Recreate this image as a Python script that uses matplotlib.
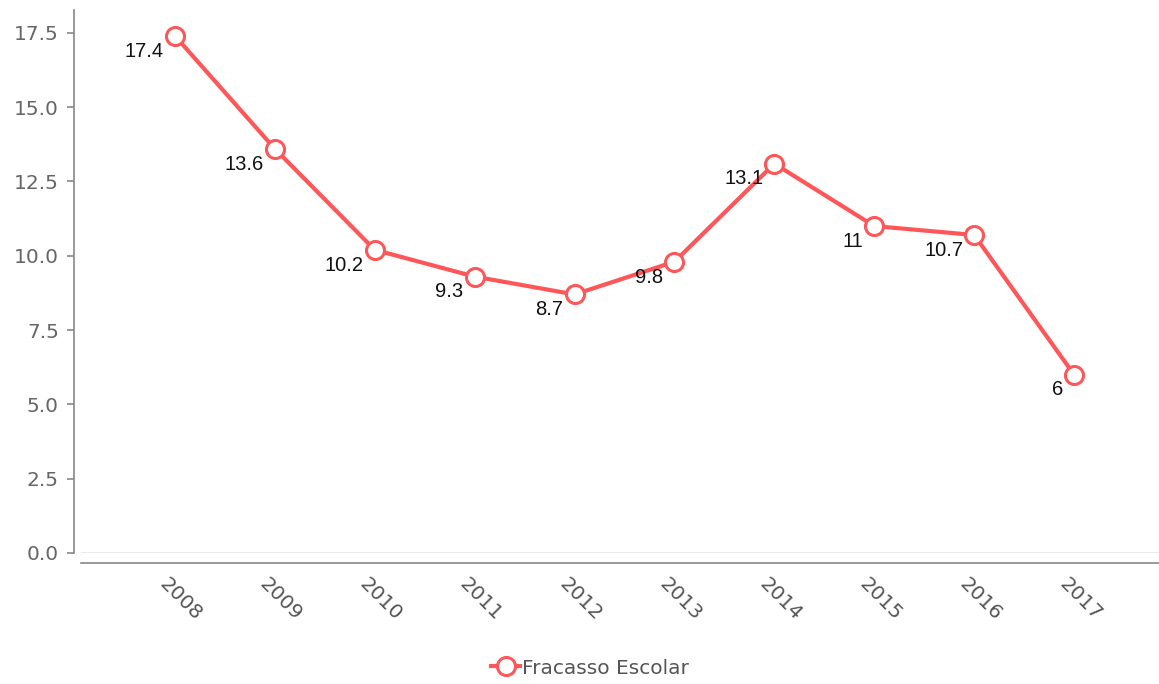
import matplotlib
matplotlib.use("Agg")
import matplotlib.pyplot as plt
from matplotlib.transforms import ScaledTranslation

# data
years = ["2008", "2009", "2010", "2011", "2012", "2013", "2014", "2015", "2016", "2017"]
fracasso = [17.4, 13.6, 10.2, 9.3, 8.7, 9.8, 13.1, 11, 10.7, 6]
value_labels = ["17.4", "13.6", "10.2", "9.3", "8.7", "9.8", "13.1", "11", "10.7", "6"]
y_ticks = [0.0, 2.5, 5.0, 7.5, 10.0, 12.5, 15.0, 17.5]

RED = "#ff5759"
W, H = 1159, 684

fig = plt.figure(figsize=(W / 100, H / 100), dpi=100)
ax = fig.add_axes([81 / W, (H - 553) / H, 1 - 81 / W, (553 - 10) / H])

x = list(range(len(years)))
ax.plot(x, fracasso, color=RED, lw=3, marker="o", markersize=13,
        markerfacecolor="white", markeredgecolor=RED, markeredgewidth=2.2,
        label="Fracasso Escolar", zorder=3, clip_on=False)

# value labels, down-left of each point
for xi, v, t in zip(x, fracasso, value_labels):
    ax.annotate(t, (xi, v), xytext=(-8, -11), textcoords="offset points",
                ha="right", va="center", fontsize=14.5, family="Liberation Sans",
                color="#111111", zorder=4)

ax.set_xlim(-0.94, 9.85)
ax.set_ylim(0, 18.27)
ax.axhline(0, color="#e6e6e6", lw=1.2, zorder=1)

ax.set_yticks(y_ticks)
ax.set_yticklabels([f"{t:.1f}" for t in y_ticks])
ax.set_xticks(x)
ax.set_xticklabels(years)

for s in ["top", "right"]:
    ax.spines[s].set_visible(False)
ax.spines["left"].set_position(("outward", 5))
ax.spines["bottom"].set_position(("outward", 7))
ax.spines["left"].set_color("#888888")
ax.spines["bottom"].set_color("#888888")
ax.spines["left"].set_linewidth(1.2)
ax.spines["bottom"].set_linewidth(1.2)

ax.tick_params(axis="y", colors="#888888", labelcolor="#666666",
               labelsize=14.5, length=5, width=1.2, pad=6)
ax.tick_params(axis="x", length=0, labelcolor="#555555", labelsize=14.5, pad=26)

# rotated year labels, centred a little right of the tick
shift = ScaledTranslation(6 / 100, 0, fig.dpi_scale_trans)
for lab in ax.get_xticklabels():
    lab.set_rotation(-45)
    lab.set_rotation_mode("anchor")
    lab.set_ha("center")
    lab.set_va("center")
    lab.set_transform(lab.get_transform() + shift)

fig.legend(loc="center", bbox_to_anchor=(590 / W, 1 - 668 / H), frameon=False,
           fontsize=14.5, labelcolor="#555555", handlelength=1.4,
           handletextpad=0.1)

fig.savefig("out.png", dpi=100)
